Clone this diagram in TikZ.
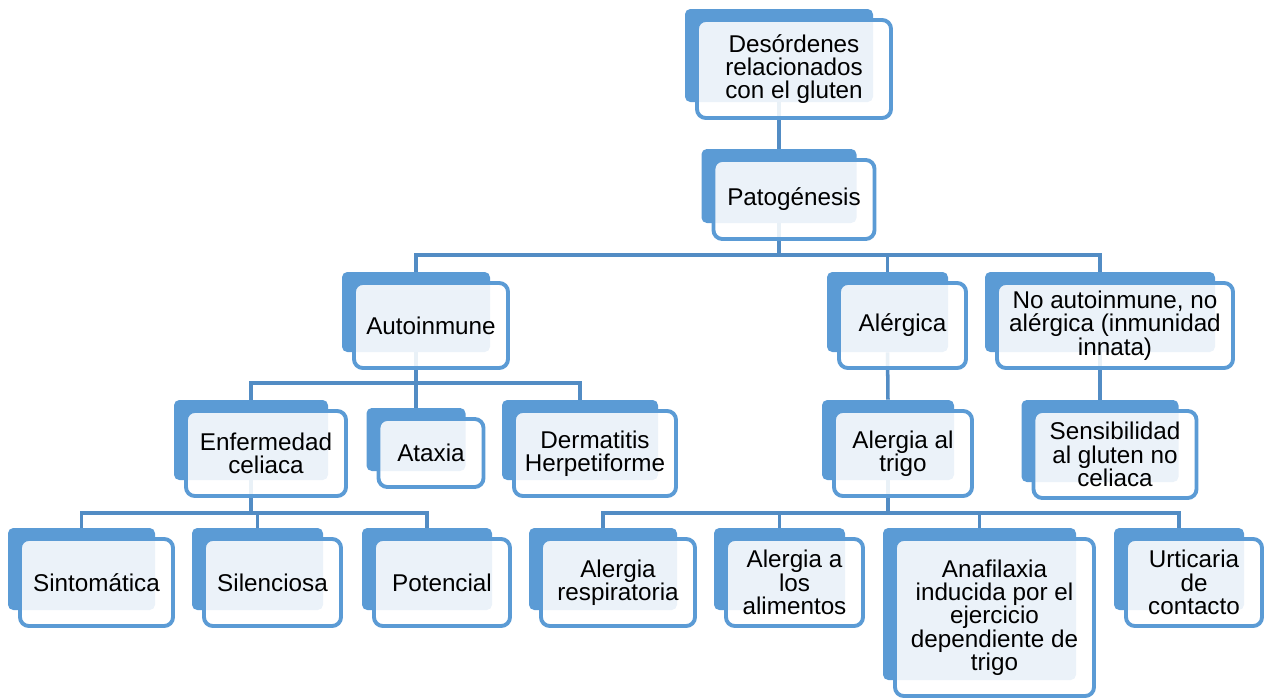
\documentclass[tikz,border=0pt]{standalone}
\usepackage{fontspec}
\setmainfont{Liberation Sans}
\definecolor{gblue}{HTML}{5B9BD5}
\definecolor{gline}{HTML}{528CC4}
\begin{document}
\begin{tikzpicture}[x=0.02cm,y=-0.02cm,
  backbox/.style 2 args={fill=gblue,rounded corners=3pt,inner sep=0pt,
    minimum width={#1*0.02cm},minimum height={#2*0.02cm}},
  frontbox/.style 2 args={draw=gblue,line width=2.2pt,fill=white,fill opacity=0.88,
    text opacity=1,rounded corners=5pt,inner sep=0pt,align=center,
    font=\fontsize{13.8}{13.3}\selectfont,
    minimum width={(#1+6)*0.02cm},minimum height={(#2+5)*0.02cm}},
  link/.style={draw=gline,line width=2pt}]
 \useasboundingbox (0,0) rectangle (1269,700);
 % back boxes
 \node[backbox={188}{93}] (des) at (779,55.5) {};
 \node[backbox={155}{74}] (pat) at (779,186) {};
 \node[backbox={148}{80}] (aut) at (416,312) {};
 \node[backbox={121}{80}] (ale) at (887.5,312) {};
 \node[backbox={230}{80}] (noa) at (1100,312) {};
 \node[backbox={154}{80}] (enf) at (251,440) {};
 \node[backbox={99}{63}] (ata) at (416,439.5) {};
 \node[backbox={156}{80}] (der) at (580,440) {};
 \node[backbox={132}{80}] (tri) at (888,440) {};
 \node[backbox={157}{82}] (sen) at (1100,441) {};
 \node[backbox={147}{82}] (sin) at (81.5,569) {};
 \node[backbox={131}{82}] (sil) at (257.5,569) {};
 \node[backbox={130}{82}] (pot) at (427,569) {};
 \node[backbox={148}{82}] (res) at (603,569) {};
 \node[backbox={131}{82}] (ali) at (779.5,569) {};
 \node[backbox={193}{152}] (ana) at (979.5,604) {};
 \node[backbox={130}{82}] (urt) at (1179,569) {};
 % connectors
 \coordinate (patbus) at (779,255);
 \coordinate (autbus) at (416,383);
 \coordinate (enfbus) at (251,513);
 \coordinate (tribus) at (888,513);
 \draw[link] (des.south) -- (pat.north);
 \draw[link] (pat.south) -- (patbus);
 \draw[link] (patbus) -| (aut.north);
 \draw[link] (patbus) -| (ale.north);
 \draw[link] (patbus) -| (noa.north);
 \draw[link] (aut.south) -- (autbus);
 \draw[link] (autbus) -| (enf.north);
 \draw[link] (autbus) -| (ata.north);
 \draw[link] (autbus) -| (der.north);
 \draw[link] (ale.south) -- (tri.north);
 \draw[link] (noa.south) -- (sen.north);
 \draw[link] (enf.south) -- (enfbus);
 \draw[link] (enfbus) -| (sin.north);
 \draw[link] (enfbus) -| (sil.north);
 \draw[link] (enfbus) -| (pot.north);
 \draw[link] (tri.south) -- (tribus);
 \draw[link] (tribus) -| (res.north);
 \draw[link] (tribus) -| (ali.north);
 \draw[link] (tribus) -| (ana.north);
 \draw[link] (tribus) -| (urt.north);
 % front boxes
 \node[frontbox={188}{93}] (desT) at ([shift={(15,13.5)}]des) {Desórdenes\\relacionados\\con el gluten};
 \node[frontbox={155}{74}] (patT) at ([shift={(15,13.5)}]pat) {Patogénesis};
 \node[frontbox={148}{80}] (autT) at ([shift={(15,13.5)}]aut) {Autoinmune};
 \node[frontbox={121}{80}] (aleT) at ([shift={(15,13.5)}]ale) {Alérgica};
 \node[frontbox={230}{80}] (noaT) at ([shift={(15,13.5)}]noa) {No autoinmune, no\\alérgica (inmunidad\\innata)};
 \node[frontbox={154}{80}] (enfT) at ([shift={(15,13.5)}]enf) {Enfermedad\\celiaca};
 \node[frontbox={99}{63}] (ataT) at ([shift={(15,13.5)}]ata) {Ataxia};
 \node[frontbox={156}{80}] (derT) at ([shift={(15,13.5)}]der) {Dermatitis\\Herpetiforme};
 \node[frontbox={132}{80}] (triT) at ([shift={(15,13.5)}]tri) {Alergia al\\trigo};
 \node[frontbox={157}{82}] (senT) at ([shift={(15,13.5)}]sen) {Sensibilidad\\al gluten no\\celiaca};
 \node[frontbox={147}{82}] (sinT) at ([shift={(15,13.5)}]sin) {Sintomática};
 \node[frontbox={131}{82}] (silT) at ([shift={(15,13.5)}]sil) {Silenciosa};
 \node[frontbox={130}{82}] (potT) at ([shift={(15,13.5)}]pot) {Potencial};
 \node[frontbox={148}{82}] (resT) at ([shift={(15,13.5)}]res) {Alergia\\respiratoria};
 \node[frontbox={131}{82}] (aliT) at ([shift={(15,13.5)}]ali) {Alergia a\\los\\alimentos};
 \node[frontbox={193}{152}] (anaT) at ([shift={(15,13.5)}]ana) {Anafilaxia\\inducida por el\\ejercicio\\dependiente de\\trigo};
 \node[frontbox={130}{82}] (urtT) at ([shift={(15,13.5)}]urt) {Urticaria\\de\\contacto};
\end{tikzpicture}
\end{document}
